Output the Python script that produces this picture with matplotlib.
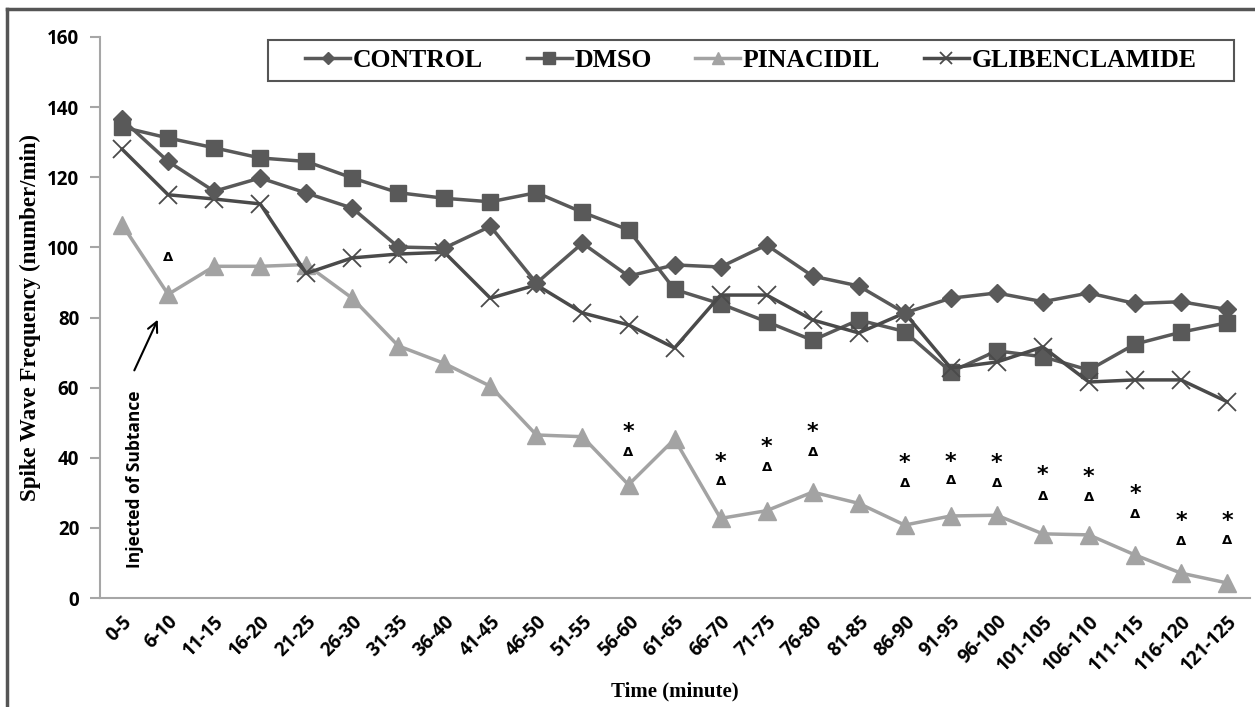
import matplotlib
matplotlib.use("Agg")
import matplotlib.pyplot as plt
from matplotlib.lines import Line2D
from matplotlib.patches import Rectangle
import numpy as np

# time bins
time_bins = ["0-5", "6-10", "11-15", "16-20", "21-25", "26-30", "31-35", "36-40",
             "41-45", "46-50", "51-55", "56-60", "61-65", "66-70", "71-75", "76-80",
             "81-85", "86-90", "91-95", "96-100", "101-105", "106-110", "111-115",
             "116-120", "121-125"]

control = [136.5, 124.5, 116, 119.8, 115.5, 111.2, 100.1, 99.8, 106, 89.8, 101.2, 91.8,
           95, 94.4, 100.7, 91.8, 89, 81.3, 85.5, 87, 84.5, 87, 84, 84.5, 82.3]
dmso = [134.3, 131.2, 128.4, 125.5, 124.5, 119.8, 115.6, 114, 113, 115.6, 110, 105,
        88, 83.9, 78.8, 73.5, 79.3, 76, 64.5, 70.5, 68.8, 65, 72.4, 75.8, 78.5]
pinacidil = [106.5, 86.6, 94.6, 94.6, 95.1, 85.5, 71.9, 66.9, 60.4, 46.5, 46, 32.3,
             45.3, 22.7, 24.9, 30.2, 27, 20.8, 23.4, 23.6, 18.3, 18, 12.3, 7.1, 4.3]
glibenclamide = [128, 115, 113.8, 112.4, 92.6, 97, 98.1, 98.6, 85.5, 89.3, 81.3, 77.9,
                 71.3, 86.4, 86.4, 79.3, 75.6, 81.3, 65.6, 67.3, 71.6, 61.6, 62.2, 62.2, 56]

# significance marks (bin index, y of star, y of delta)
delta_only = [(1, 97)]
star_delta = [(11, 47.3, 41.6), (13, 38.8, 33.2), (14, 43.0, 37.3), (15, 47.3, 41.6),
              (17, 38.4, 32.6), (18, 38.8, 33.4), (19, 38.4, 32.6), (20, 35.0, 29.0),
              (21, 34.5, 28.6), (22, 29.7, 23.8), (23, 22.0, 16.2), (24, 22.0, 16.5)]

x = np.arange(len(time_bins))

fig = plt.figure(figsize=(12.55, 7.07), dpi=100)
ax = fig.add_axes([100 / 1255, 1 - 598 / 707, 1150 / 1255, 561 / 707])

dark = "#595959"
ax.plot(x, control, color=dark, lw=2.5, marker="D", ms=9, mfc=dark, mec=dark, label="CONTROL", zorder=4)
ax.plot(x, dmso, color=dark, lw=2.5, marker="s", ms=12, mfc=dark, mec=dark, label="DMSO", zorder=3)
ax.plot(x, pinacidil, color="#a3a3a3", lw=2.5, marker="^", ms=13, mfc="#a3a3a3", mec="#a3a3a3",
        label="PINACIDIL", zorder=3)
ax.plot(x, glibenclamide, color="#4a4a4a", lw=2.5, marker="x", ms=13, mew=1.3, label="GLIBENCLAMIDE",
        zorder=3)

for i, yd in delta_only:
    ax.text(i, yd, "\u0394", ha="center", va="center", fontsize=9.5, fontweight="bold",
            family="DejaVu Sans")
for i, ys, yd in star_delta:
    ax.text(i, ys, "*", ha="center", va="center", fontsize=16, fontweight="bold",
            family="DejaVu Sans")
    ax.text(i, yd, "\u0394", ha="center", va="center", fontsize=9.5, fontweight="bold",
            family="DejaVu Sans")

ax.set_xlim(-0.48, 24.5)
ax.set_ylim(0, 160)
ax.set_yticks(range(0, 161, 20))
ax.set_xticks(x)
ax.set_xticklabels(time_bins, rotation=45, ha="right", rotation_mode="anchor",
                   fontsize=13.5, fontweight="bold", family="Open Sans")
for lab in ax.get_yticklabels():
    lab.set_fontsize(13.5)
    lab.set_fontweight("bold")
    lab.set_family("Open Sans")

for s in ["top", "right"]:
    ax.spines[s].set_visible(False)
for s in ["left", "bottom"]:
    ax.spines[s].set_color("#a6a6a6")
    ax.spines[s].set_linewidth(1.5)
ax.tick_params(axis="y", length=7, width=1.5, color="#a6a6a6", pad=8)
ax.tick_params(axis="x", length=0, pad=10)

ax.set_ylabel("Spike Wave Frequency (number/min)", fontsize=16.5, fontweight="bold",
              family="Liberation Serif", labelpad=4)
ax.set_xlabel("Time (minute)", fontsize=15, fontweight="bold", family="Liberation Serif",
              labelpad=4)

ax.annotate("", xy=(0.8, 80.1), xytext=(0.24, 64.2),
            arrowprops=dict(arrowstyle="->", color="black", lw=1.5, mutation_scale=18))
ax.text(0.28, 59.3, "Injected of Subtance", rotation=90, ha="center", va="top",
        fontsize=12.5, fontweight="bold", family="Open Sans")

leg = fig.legend(*ax.get_legend_handles_labels(), loc="center",
                 bbox_to_anchor=(751 / 1255, 1 - 60.5 / 707),
                 ncol=4, frameon=False,
                 prop=dict(family="Liberation Serif", weight="bold", size=18.5),
                 handlelength=1.75, handletextpad=0.1, columnspacing=1.7, markerscale=0.7)
fig.add_artist(Rectangle((268 / 1255, 1 - 81 / 707), 966 / 1255, 41 / 707,
                         transform=fig.transFigure, fill=False, edgecolor="#555555", lw=1.5))

# outer frame lines (left and top)
fig.add_artist(Line2D([7 / 1255, 7 / 1255], [0, 1 - 9 / 707], color="#555555", lw=2.5))
fig.add_artist(Line2D([7 / 1255, 1], [1 - 9 / 707, 1 - 9 / 707], color="#555555", lw=2.5))

fig.savefig("out.png", dpi=100)
